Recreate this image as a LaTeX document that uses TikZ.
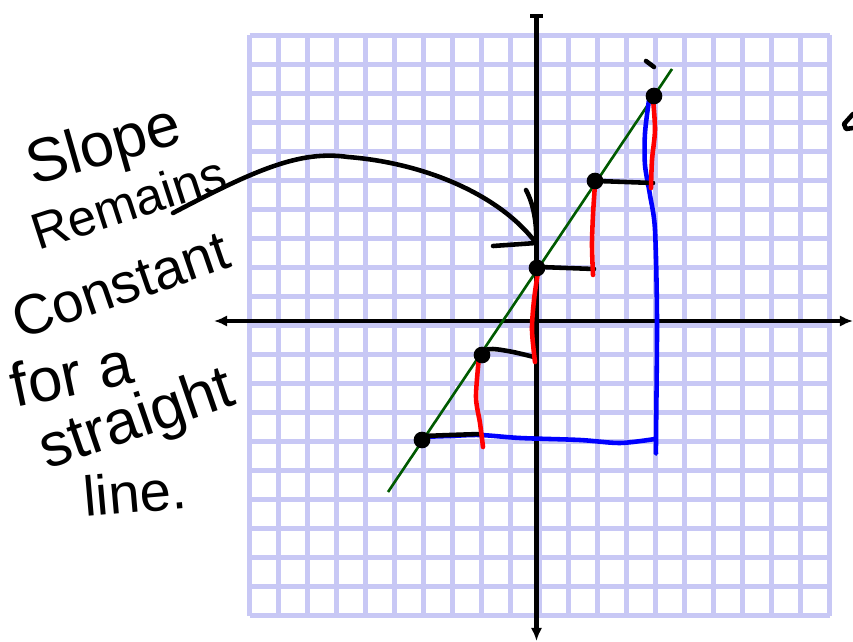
\documentclass[tikz,border=0pt]{standalone}
\usepackage{fontspec}
\newfontfamily\handfont{Liberation Sans}
\usetikzlibrary{arrows.meta}
\definecolor{gridlav}{RGB}{200,200,245}
\definecolor{linegreen}{RGB}{0,90,0}
\definecolor{penred}{RGB}{255,0,0}
\definecolor{penblue}{RGB}{0,0,255}
\begin{document}
\begin{tikzpicture}[x=0.02cm,y=-0.02cm,
  gridline/.style={draw=gridlav,line width=2.3pt},
  axis/.style={draw=black,line width=2.7pt},
  pen/.style={line width=2.6pt,line cap=round,line join=round},
  dotnode/.style={circle,fill=black,inner sep=0pt,minimum size=9.5pt},
  words/.style={font=\handfont,inner sep=0pt,anchor=base west},
]
\useasboundingbox (0,0) rectangle (853,642);
\fill[white] (0,0) rectangle (853,642);
% grid
\foreach \i in {0,...,20}{
  \draw[gridline] (249.5+29*\i,35.5) -- (249.5+29*\i,615.5);
  \draw[gridline] (249.5,35.5+29*\i) -- (829.5,35.5+29*\i);
}
% axes
\coordinate (ytop) at (536.5,16);
\coordinate (ybot) at (536.5,641);
\coordinate (xleft) at (214,321);
\coordinate (xright) at (853,321);
\draw[axis,-{Latex[length=7.5pt,width=6.5pt]}] (ytop) -- (ybot);
\draw[axis,-{Latex[length=7.5pt,width=6.5pt]}] (536.5,321) -- (xleft);
\draw[axis,-{Latex[length=7.5pt,width=6.5pt]}] (536.5,321) -- (xright);
\draw[line width=2.4pt] (530,16) -- (543,16);
% green line
\coordinate (ga) at (388,492);
\coordinate (gb) at (672,69);
\draw[linegreen,line width=1.5pt] (ga) -- (gb);
% blue strokes
\draw[penblue,pen] plot[smooth] coordinates {(418,437) (450,436) (480,435) (520,438) (580,440) (620,443) (655,439)};
\draw[penblue,pen] plot[smooth] coordinates {(656,453) (656,440) (657,320) (655,230) (650,195) (645,165) (645,133) (649,100)};
% black runs
\draw[pen] (598,181) -- (653,183);
\draw[pen] (540,267) -- (594,269);
\draw[pen] plot[smooth] coordinates {(479,351) (493,349) (513,352) (534,357)};
\draw[pen] plot[smooth] coordinates {(424,436) (450,435) (480,434)};
% red rises
\draw[penred,pen] plot[smooth] coordinates {(653,99) (655,130) (652,160) (651,188)};
\draw[penred,pen] plot[smooth] coordinates {(595,184) (593,215) (592,245) (593,275)};
\draw[penred,pen] plot[smooth] coordinates {(538,272) (534,300) (532,330) (535,362)};
\draw[penred,pen] plot[smooth] coordinates {(479,357) (476,397) (480,423) (483,447)};
% points
\node[dotnode] (p1) at (654,96) {};
\node[dotnode] (p2) at (595,181) {};
\node[dotnode] (p3) at (537,268) {};
\node[dotnode] (p4) at (482,355) {};
\node[dotnode] (p5) at (422,440) {};
% small marks
\draw[pen] (646,61) -- (654,67);
\draw[pen] (853,114) -- (844,124) -- (846,129) -- (853,128);
% curved arrow
\coordinate (cs) at (173,213);
\coordinate (ce) at (536,243);
\draw[pen] (cs) .. controls (255,170) and (300,150) .. (348,157) .. controls (425,163) and (500,195) .. (ce);
\draw[pen] (526,190) .. controls (534,205) and (537,225) .. (ce);
\draw[pen] (493,246) -- (ce);
% text
\node[words,rotate=16,font=\handfont\fontsize{35}{35}\selectfont] (t1) at (33,186) {Slope};
\node[words,rotate=18,font=\handfont\fontsize{29}{29}\selectfont] (t2) at (38,251) {Remains};
\node[words,rotate=19,font=\handfont\fontsize{32}{32}\selectfont] (t3) at (20,340) {Constant};
\node[words,rotate=12,font=\handfont\fontsize{35}{35}\selectfont] (t4) at (15,408) {for a};
\node[words,rotate=19,font=\handfont\fontsize{35}{35}\selectfont] (t5) at (47,470) {straight};
\node[words,rotate=5,font=\handfont\fontsize{32}{32}\selectfont] (t6) at (85,517) {line.};
\end{tikzpicture}
\end{document}
